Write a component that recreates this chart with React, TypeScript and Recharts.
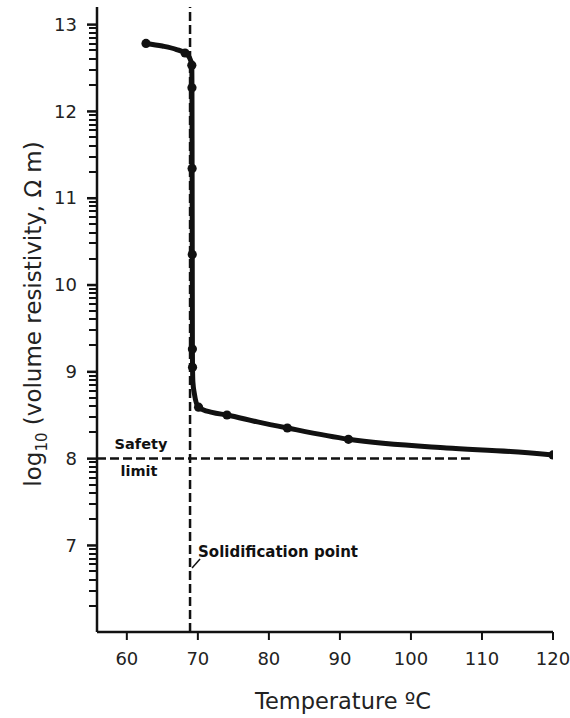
import React from 'react';
import { ComposedChart, Line, XAxis, YAxis, ReferenceLine } from 'recharts';

// curve (temperature in °C, log10 resistivity)
const curveTemp = [62.7, 65, 67, 68.2, 68.8, 69.15, 69.17, 69.19, 69.21, 69.23, 69.25, 69.3, 69.5, 70.1, 72, 74.1, 78.4, 82.6, 91.2, 105, 114, 120];
const curveVal = [12.78, 12.75, 12.71, 12.67, 12.62, 12.53, 12.27, 11.34, 10.35, 9.26, 9.05, 8.88, 8.75, 8.59, 8.53, 8.5, 8.42, 8.35, 8.22, 8.12, 8.08, 8.04];

// measured points (black dots)
const dotTemp = [62.7, 68.2, 69.15, 69.17, 69.19, 69.21, 69.23, 69.25, 70.1, 74.1, 82.6, 91.2, 120];
const dotVal = [12.78, 12.67, 12.53, 12.27, 11.34, 10.35, 9.26, 9.05, 8.59, 8.5, 8.35, 8.22, 8.04];

const xTicks = [60, 70, 80, 90, 100, 110, 120];
const yMajor = [7, 8, 9, 10, 11, 12, 13];
const minorSteps = [2, 3, 4, 5, 6, 7, 8, 9];
const yDomain = [6, 13.2];

const safetyLimit = 8;
const solidificationPoint = 68.9;
const safetyEnd = 108.3;

const curve = curveTemp.map((t, i) => ({ t, v: curveVal[i] }));
const dots = dotTemp.map((t, i) => ({ t, v: dotVal[i] }));

const font = '"DejaVu Sans", sans-serif';
const ink = '#111';

// major tick + label, plus the log-paper minor ticks of the decade below it
const YTick = (props: any) => {
  const { x, y, payload, height } = props;
  const axisX = x + 20; // tickSize 9 + tickMargin 11
  const h = Number(height) > 400 && Number(height) < 700 ? Number(height) : 625;
  const ppu = h / (yDomain[1] - yDomain[0]);
  return (
    <g>
      {minorSteps.map((k) => {
        const my = Math.round(y + (1 - Math.log10(k)) * ppu);
        return <rect key={k} x={axisX - 8} y={my - 1} width={8} height={2} fill={ink} />;
      })}
      <rect x={axisX - 10} y={y - 1} width={10} height={2.5} fill={ink} />
      <text x={x} y={y} dy="0.36em" textAnchor="end" fontFamily={font} fontSize={18} fill="#222">
        {payload.value}
      </text>
    </g>
  );
};

const YLabel = (props: any) => {
  const { x, y } = props.viewBox;
  const cx = x + 4;
  const cy = y + 307;
  return (
    <text x={cx} y={cy} transform={`rotate(-90, ${cx}, ${cy})`} textAnchor="middle" fontFamily={font} fontSize={23} fill="#222">
      log<tspan dy={6} fontSize={15}>10</tspan>
      <tspan dy={-6}> (volume resistivity, Ω m)</tspan>
    </text>
  );
};

const XLabel = (props: any) => {
  const { x, y } = props.viewBox;
  return (
    <text x={x + 246} y={y + 77} textAnchor="middle" fontFamily={font} fontSize={22.5} fill="#222">
      Temperature ºC
    </text>
  );
};

const SafetyLabel = (props: any) => {
  const { x, y } = props.viewBox;
  return (
    <g fontFamily={font} fontWeight="bold" fontSize={14.5} fill={ink}>
      <text x={x + 44} y={y - 9} textAnchor="middle">Safety</text>
      <text x={x + 42} y={y + 18} textAnchor="middle">limit</text>
    </g>
  );
};

const SolidLabel = (props: any) => {
  const { x, y, height } = props.viewBox;
  const bottom = y + height;
  return (
    <g>
      <line x1={x + 2} y1={bottom - 64} x2={x + 10} y2={bottom - 73} stroke={ink} strokeWidth={1.5} />
      <text x={x + 8} y={bottom - 75} fontFamily={font} fontWeight="bold" fontSize={15} fill={ink}>
        Solidification point
      </text>
    </g>
  );
};

export default function App() {
  return (
    <div style={{ position: 'absolute', left: 0, top: 0, background: '#fff' }}>
      <ComposedChart width={570} height={718} margin={{ top: 7, right: 17, bottom: 6, left: 37 }}>
        <XAxis
          type="number"
          dataKey="t"
          domain={[55.8, 120]}
          ticks={xTicks}
          interval={0}
          allowDataOverflow
          tickSize={8}
          tickMargin={12}
          height={80}
          axisLine={{ stroke: ink, strokeWidth: 2.5 }}
          tickLine={{ stroke: ink, strokeWidth: 2 }}
          tick={{ fontFamily: font, fontSize: 18, fill: '#222' }}
          label={{ content: XLabel }}
        />
        <YAxis
          type="number"
          dataKey="v"
          domain={yDomain}
          ticks={yMajor}
          interval={0}
          allowDataOverflow
          width={60}
          tickSize={9}
          tickMargin={11}
          tickLine={false}
          axisLine={{ stroke: ink, strokeWidth: 2.5 }}
          tick={<YTick />}
          label={{ content: YLabel }}
        />
        <ReferenceLine
          segment={[
            { x: 55.8, y: safetyLimit },
            { x: safetyEnd, y: safetyLimit },
          ]}
          stroke={ink}
          strokeWidth={2.5}
          strokeDasharray="9 4"
          label={<SafetyLabel />}
        />
        <ReferenceLine
          x={solidificationPoint}
          stroke={ink}
          strokeWidth={2.5}
          strokeDasharray="9 4"
          label={<SolidLabel />}
        />
        <Line
          data={curve}
          dataKey="v"
          type="monotone"
          stroke={ink}
          strokeWidth={5}
          dot={false}
          activeDot={false}
          isAnimationActive={false}
        />
        <Line
          data={dots}
          dataKey="v"
          stroke="none"
          dot={{ r: 4.6, fill: ink, stroke: 'none' }}
          activeDot={false}
          isAnimationActive={false}
        />
      </ComposedChart>
    </div>
  );
}
